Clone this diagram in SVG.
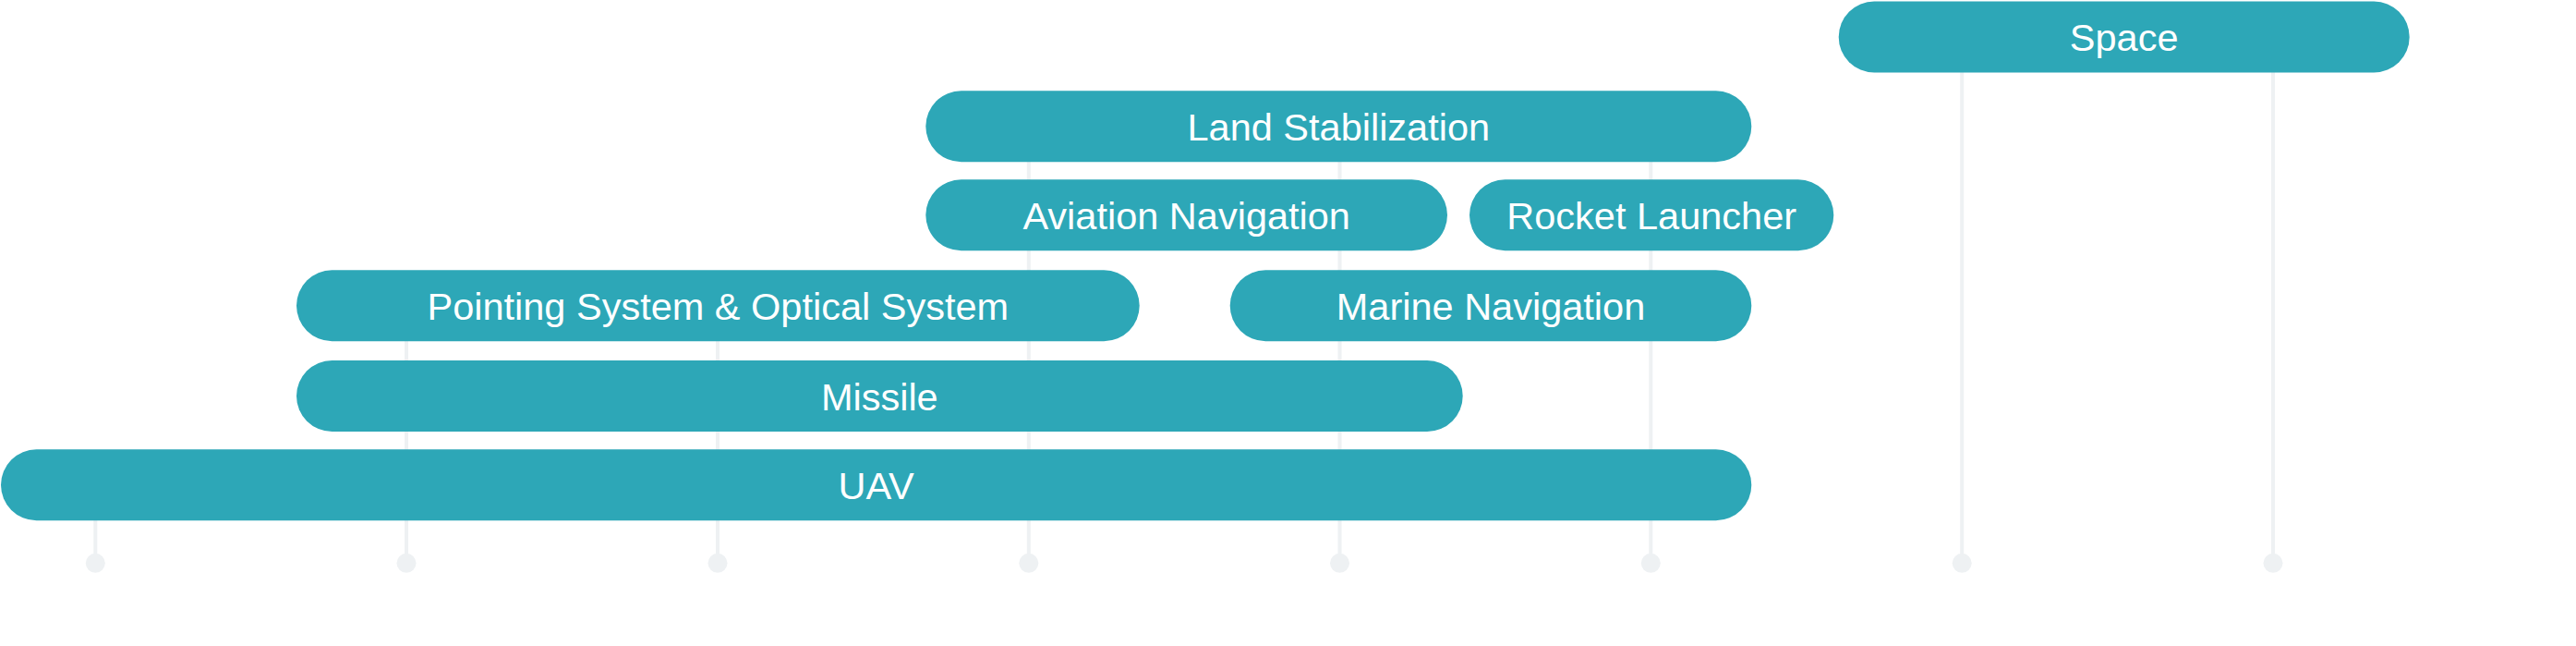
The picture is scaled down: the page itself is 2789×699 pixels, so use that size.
<svg xmlns="http://www.w3.org/2000/svg" width="2789" height="699" viewBox="0 0 2789 699">
<style>
.bar{fill:#2da7b7}
.lbl{fill:#ffffff;font-family:"Liberation Sans",Arial,sans-serif;font-size:41.5px;text-anchor:middle}
.tick{stroke:#eef1f3;stroke-width:4;fill:none}
.dot{fill:#eef1f3}
</style>
<rect width="2789" height="699" fill="#ffffff"/>
<g id="connectors">
<line class="tick" x1="103.3" y1="524" x2="103.3" y2="609"/>
<line class="tick" x1="440" y1="330" x2="440" y2="609"/>
<line class="tick" x1="777" y1="330" x2="777" y2="609"/>
<line class="tick" x1="1113.8" y1="136" x2="1113.8" y2="609"/>
<line class="tick" x1="1450.5" y1="136" x2="1450.5" y2="609"/>
<line class="tick" x1="1787.3" y1="136" x2="1787.3" y2="609"/>
<line class="tick" x1="2124.2" y1="40" x2="2124.2" y2="609"/>
<line class="tick" x1="2461" y1="40" x2="2461" y2="609"/>
<circle class="dot" cx="103.3" cy="609.3" r="10.5"/>
<circle class="dot" cx="440" cy="609.3" r="10.5"/>
<circle class="dot" cx="777" cy="609.3" r="10.5"/>
<circle class="dot" cx="1113.8" cy="609.3" r="10.5"/>
<circle class="dot" cx="1450.5" cy="609.3" r="10.5"/>
<circle class="dot" cx="1787.3" cy="609.3" r="10.5"/>
<circle class="dot" cx="2124.2" cy="609.3" r="10.5"/>
<circle class="dot" cx="2461" cy="609.3" r="10.5"/>
</g>
<g id="space">
<rect class="bar" x="1990.7" y="1.5" width="618" height="77" rx="38.5"/>
<text class="lbl" x="2299.7" y="55">Space</text>
</g>
<g id="land-stabilization">
<rect class="bar" x="1002.3" y="98.3" width="894" height="77" rx="38.5"/>
<text class="lbl" x="1449.3" y="151.8">Land Stabilization</text>
</g>
<g id="aviation-navigation">
<rect class="bar" x="1002.3" y="194.3" width="564.7" height="77" rx="38.5"/>
<text class="lbl" x="1284.7" y="247.8">Aviation Navigation</text>
</g>
<g id="rocket-launcher">
<rect class="bar" x="1591" y="194.3" width="394.3" height="77" rx="38.5"/>
<text class="lbl" x="1788.2" y="247.8">Rocket Launcher</text>
</g>
<g id="pointing-optical">
<rect class="bar" x="321" y="292.3" width="912.7" height="77" rx="38.5"/>
<text class="lbl" x="777.3" y="345.8">Pointing System &amp; Optical System</text>
</g>
<g id="marine-navigation">
<rect class="bar" x="1331.7" y="292.3" width="564.6" height="77" rx="38.5"/>
<text class="lbl" x="1614" y="345.8">Marine Navigation</text>
</g>
<g id="missile">
<rect class="bar" x="321" y="390" width="1262.7" height="77" rx="38.5"/>
<text class="lbl" x="952.3" y="443.5">Missile</text>
</g>
<g id="uav">
<rect class="bar" x="1" y="486.3" width="1895.3" height="77" rx="38.5"/>
<text class="lbl" x="948.6" y="539.8">UAV</text>
</g>
</svg>
